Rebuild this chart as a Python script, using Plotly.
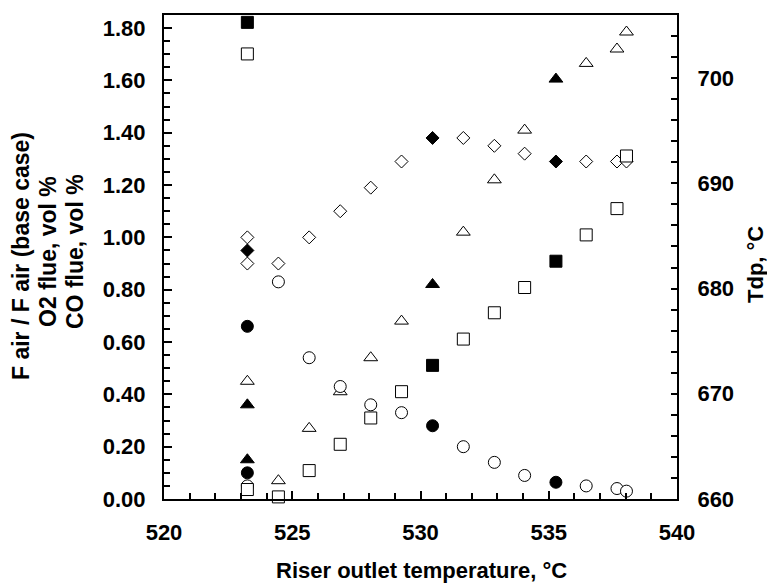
import plotly.graph_objects as go

# ---------------- data ----------------
# F air / F air (base case) - open diamonds (model) and filled diamonds (plant)
fair_sim_T = [523.25, 523.25, 524.46, 525.66, 526.87, 528.06, 529.26, 531.67, 532.88, 534.06, 536.46, 537.66, 538.03]
fair_sim = [1.00, 0.90, 0.90, 1.00, 1.10, 1.19, 1.29, 1.38, 1.35, 1.32, 1.29, 1.29, 1.29]
fair_exp_T = [523.25, 530.47, 535.28]
fair_exp = [0.95, 1.38, 1.29]

# O2 flue, vol % - open triangles (model) and filled triangles (plant)
o2_sim_T = [523.25, 524.46, 525.66, 526.87, 528.06, 529.26, 531.67, 532.88, 534.06, 536.46, 537.66, 538.03]
o2_sim = [0.45, 0.07, 0.27, 0.41, 0.54, 0.68, 1.02, 1.22, 1.41, 1.665, 1.72, 1.785]
o2_exp_T = [523.25, 523.25, 530.47, 535.28]
o2_exp = [0.36, 0.15, 0.82, 1.605]

# CO flue, vol % - open circles (model) and filled circles (plant)
co_sim_T = [523.25, 524.46, 525.66, 526.87, 528.06, 529.26, 531.67, 532.88, 534.06, 536.46, 537.66, 538.03]
co_sim = [0.05, 0.83, 0.54, 0.43, 0.36, 0.33, 0.20, 0.14, 0.09, 0.05, 0.04, 0.03]
co_exp_T = [523.25, 523.25, 530.47, 535.28]
co_exp = [0.66, 0.10, 0.28, 0.064]

# Tdp, degC (right axis) - open squares (model) and filled squares (plant)
tdp_sim_T = [523.25, 523.25, 524.46, 525.66, 526.87, 528.06, 529.26, 531.67, 532.88, 534.06, 536.46, 537.66, 538.03]
tdp_sim = [702.3, 660.9, 660.2, 662.7, 665.2, 667.7, 670.2, 675.2, 677.7, 680.1, 685.1, 687.6, 692.6]
tdp_exp_T = [523.25, 530.47, 535.28]
tdp_exp = [705.3, 672.7, 682.6]

x_ticks = [520, 525, 530, 535, 540]
y_ticks = [0.0, 0.2, 0.4, 0.6, 0.8, 1.0, 1.2, 1.4, 1.6, 1.8]
y2_ticks = [660, 670, 680, 690, 700]

left_title_lines = ["F air / F air (base case)", "O2 flue, vol %", "CO flue, vol %"]

FONT = "Liberation Sans"
FS = 22

fig = go.Figure()


def add(xs, ys, symbol, size, filled, yaxis="y"):
    fig.add_trace(go.Scatter(
        x=xs, y=ys, mode="markers", yaxis=yaxis, cliponaxis=False, showlegend=False,
        marker=dict(symbol=symbol, size=size,
                    color="black" if filled else "white",
                    line=dict(color="black", width=1)),
    ))


add(fair_sim_T, fair_sim, "diamond", 10, False)
add(fair_exp_T, fair_exp, "diamond", 10, True)
add(o2_sim_T, o2_sim, "triangle-up", 12, False)
add(o2_exp_T, o2_exp, "triangle-up", 12, True)
add(co_sim_T, co_sim, "circle", 12, False)
add(co_exp_T, co_exp, "circle", 12, True)
add(tdp_sim_T, tdp_sim, "square", 12, False, "y2")
add(tdp_exp_T, tdp_exp, "square", 12, True, "y2")

axis_common = dict(showline=True, linecolor="black", linewidth=2, ticks="inside",
                   tickcolor="black", tickwidth=2, showgrid=False, zeroline=False,
                   tickfont=dict(family=FONT, size=FS, color="black", weight="bold"))

fig.update_layout(
    width=767, height=583,
    margin=dict(l=164, r=90, t=15, b=84),
    paper_bgcolor="white", plot_bgcolor="white",
    font=dict(family=FONT, size=FS, color="black", weight="bold"),
    xaxis=dict(range=[520, 540], tickvals=x_ticks, ticklen=8, mirror=True,
               ticklabelstandoff=13,
               minor=dict(dtick=1, ticks="inside", ticklen=6, tickcolor="black", tickwidth=2),
               **axis_common),
    yaxis=dict(range=[0, 1.85], tickvals=y_ticks, tickformat=".2f", ticklen=8,
               ticklabelstandoff=12,
               minor=dict(dtick=0.05, ticks="inside", ticklen=6, tickcolor="black", tickwidth=2),
               **axis_common),
    yaxis2=dict(range=[660, 706], tickvals=y2_ticks, overlaying="y", side="right",
                ticklen=6, ticklabelstandoff=14,
                minor=dict(dtick=2, ticks="inside", ticklen=6, tickcolor="black", tickwidth=2),
                **axis_common),
)

title_font = dict(family=FONT, size=FS, color="black", weight="bold")
fig.add_annotation(text="Riser outlet temperature, \u00b0C", xref="paper", yref="paper",
                   x=0.501, y=-0.1467, xanchor="center", yanchor="middle",
                   showarrow=False, font=title_font)

# left title: three rotated lines
left_x_px = [21, 48, 75]
left_y_px = [256, 252, 252]
for txt, xp, yp in zip(left_title_lines, left_x_px, left_y_px):
    fig.add_annotation(text=txt, xref="paper", yref="paper",
                       x=(xp - 164) / 513, y=(499 - yp) / 484, textangle=-90,
                       xanchor="center", yanchor="middle", showarrow=False,
                       font=dict(family=FONT, size=23, color="black", weight="bold"))

fig.add_annotation(text="Tdp, \u00b0C", xref="paper", yref="paper", x=1.154, y=0.4835,
                   textangle=-90, xanchor="center", yanchor="middle",
                   showarrow=False, font=title_font)

fig.write_html("out.html")
